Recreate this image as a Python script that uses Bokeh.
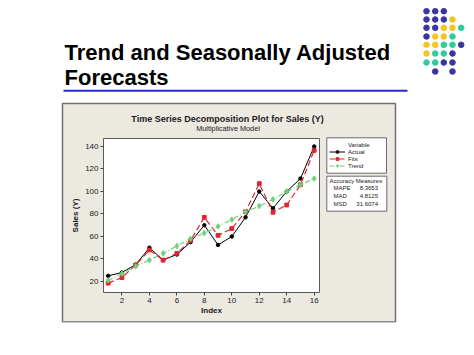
from bokeh.plotting import figure
from bokeh.models import Range1d, Legend, LegendItem, FixedTicker, LinearAxis
from bokeh.core.properties import value
from bokeh.embed import file_html
from bokeh.resources import INLINE

# ---- data ----
index = list(range(1, 17))
actual = [25, 28, 35, 50, 39, 44, 55, 70, 52.5, 60, 77, 100, 85, 100, 111.5, 140]
fits = [18.5, 23.5, 34.5, 48, 39, 45, 56.5, 77, 61, 67, 82, 107, 81.5, 88, 106, 136.5]
trend = [21, 27, 33.5, 39, 45, 51.5, 58, 63, 69, 75, 82, 87, 93, 100, 106, 111.5]
x_ticks = [2, 4, 6, 8, 10, 12, 14, 16]
y_ticks = [20, 40, 60, 80, 100, 120, 140]
series_names = ["Actual", "Fits", "Trend"]
measure_names = ["MAPE", "MAD", "MSD"]
measure_values = ["8.3653", "4.8125", "31.6074"]
slide_title = ["Trend and Seasonally Adjusted", "Forecasts"]
chart_title = "Time Series Decomposition Plot for Sales (Y)"
chart_subtitle = "Multiplicative Model"
dot_pattern = ["PPP..", "PPPY.", "PPYYT", "PYYT.", "YYTTP", "YTTP.", "TTPP.", ".P.P."]
dot_colors = {"P": "#3B35A3", "Y": "#F4C51E", "T": "#2FCB9B"}

# ---- layout (pixels) ----
W, H = 474, 355
PX_L, PX_R, PX_T, PX_B = 45, 474, 0, 322      # figure frame on the page
FL, FR, FT, FB = 103, 319, 138, 292            # chart plot area on the page
x_lo, x_hi = 0.658, 16.386
y_lo, y_hi = 10.22, 147.1
sx = (FR - FL) / (x_hi - x_lo)
sy = (FB - FT) / (y_hi - y_lo)

p = figure(width=W, height=H, output_backend="svg", toolbar_location=None,
           x_axis_type=None, y_axis_type=None,
           x_range=Range1d(PX_L, PX_R), y_range=Range1d(PX_B, PX_T),
           min_border=0, min_border_left=PX_L, min_border_bottom=H - PX_B)
p.extra_x_ranges = {"cx": Range1d(x_lo - (FL - PX_L) / sx, x_hi + (PX_R - FR) / sx)}
p.extra_y_ranges = {"cy": Range1d(y_lo - (PX_B - FB) / sy, y_hi + (FT - PX_T) / sy)}
p.border_fill_color = "white"
p.background_fill_color = "white"
p.outline_line_color = None
p.grid.visible = False

FONT = "Liberation Sans"
TXT = "#1a1a1a"

def text(x, y, s, size, bold=False, align="left", baseline="middle", color=TXT):
    p.text(x=[x], y=[y], text=[s], text_font=value(FONT),
           text_font_size=value(f"{size}px"),
           text_font_style="bold" if bold else "normal",
           text_align=align, text_baseline=baseline, text_color=color)

# slide elements
p.quad(left=[62], right=[395], top=[103], bottom=[321.5],
       fill_color="#ECE9E1", line_color="#707070", line_width=1.5)
p.quad(left=[FL], right=[FR], top=[FT], bottom=[FB],
       fill_color="white", line_color="#5a5a5a", line_width=1)
p.quad(left=[63], right=[407], top=[89.3], bottom=[91.3],
       fill_color="#2A2AC4", line_color=None)

text(64, 51.5, slide_title[0], 22, bold=True, color="black")
text(64, 76.8, slide_title[1], 22, bold=True, color="black")

col_x = [426, 434.7, 443.3, 452, 460.7]
row_y = [10.7, 19, 27.3, 36, 44.3, 53, 62, 71]
dx, dy, dc = [], [], []
for ri, row in enumerate(dot_pattern):
    for ci, ch in enumerate(row):
        if ch in dot_colors:
            dx.append(col_x[ci]); dy.append(row_y[ri]); dc.append(dot_colors[ch])
p.scatter(x=dx, y=dy, color=dc, size=5.6, marker="circle")

# chart titles
text(227, 118.3, chart_title, 9, bold=True, align="center")
text(227.5, 127.8, chart_subtitle, 7.3, align="center")

# data series (chart scales)
kw = dict(x_range_name="cx", y_range_name="cy")
r_a_l = p.line(index, actual, line_color="black", line_width=1, **kw)
r_a_m = p.scatter(index, actual, marker="circle", size=3.5, color="black", **kw)
r_f_l = p.line(index, fits, line_color="#E02530", line_width=1.2, line_dash="6 3", **kw)
r_f_m = p.scatter(index, fits, marker="square", size=3.8, color="#E02530", **kw)
r_t_l = p.line(index, trend, line_color="#6FD07A", line_width=1.2, line_dash="5 2 1 2", **kw)
r_t_m = p.scatter(index, trend, marker="diamond", size=5.5, color="#6FD07A", **kw)

# axes of the chart
xaxis = LinearAxis(x_range_name="cx", y_range_name="cy", fixed_location=y_lo,
                   bounds=(x_lo, x_hi), ticker=FixedTicker(ticks=x_ticks),
                   axis_label="Index", axis_label_standoff=0)
yaxis = LinearAxis(x_range_name="cx", y_range_name="cy", fixed_location=x_lo,
                   bounds=(y_lo, y_hi), ticker=FixedTicker(ticks=y_ticks),
                   axis_label="Sales (Y)", axis_label_standoff=2)
for ax in (xaxis, yaxis):
    ax.major_label_text_font = FONT
    ax.major_label_text_font_size = "8px"
    ax.major_label_text_color = TXT
    ax.axis_label_text_font = FONT
    ax.axis_label_text_font_size = "8px"
    ax.axis_label_text_font_style = "bold"
    ax.axis_label_text_color = TXT
    ax.minor_tick_line_color = None
    ax.major_tick_in = 0
    ax.major_tick_out = 3
    ax.major_tick_line_color = "#444444"
    ax.axis_line_color = None
    ax.major_label_standoff = 2
p.add_layout(xaxis, "below")
p.add_layout(yaxis, "left")

# legend and accuracy boxes
p.quad(left=[326.3], right=[386], top=[137.3], bottom=[172.7],
       fill_color="white", line_color="#6a6a6a", line_width=1)
p.quad(left=[326.3], right=[386.3], top=[175.7], bottom=[210.7],
       fill_color="white", line_color="#6a6a6a", line_width=1)
text(358.3, 144, "Variable", 6, align="center")

legend = Legend(items=[LegendItem(label=series_names[0], renderers=[r_a_l, r_a_m]),
                       LegendItem(label=series_names[1], renderers=[r_f_l, r_f_m]),
                       LegendItem(label=series_names[2], renderers=[r_t_l, r_t_m])],
                location=(327 - PX_L, PX_B - 171), orientation="vertical",
                border_line_alpha=0, background_fill_alpha=0,
                padding=2, margin=0, spacing=0,
                label_height=7, glyph_height=7, glyph_width=16, label_standoff=3,
                label_text_font=FONT, label_text_font_size="6px",
                label_text_color=TXT)
p.add_layout(legend)

text(329, 180, "Accuracy Measures", 6)
meas_y = [187.5, 195.7, 203.7]
for nm, val, yy in zip(measure_names, measure_values, meas_y):
    text(333, yy, nm, 6)
    text(377.5, yy, val, 6, align="right")

open("out.html", "w").write(file_html(p, INLINE))
